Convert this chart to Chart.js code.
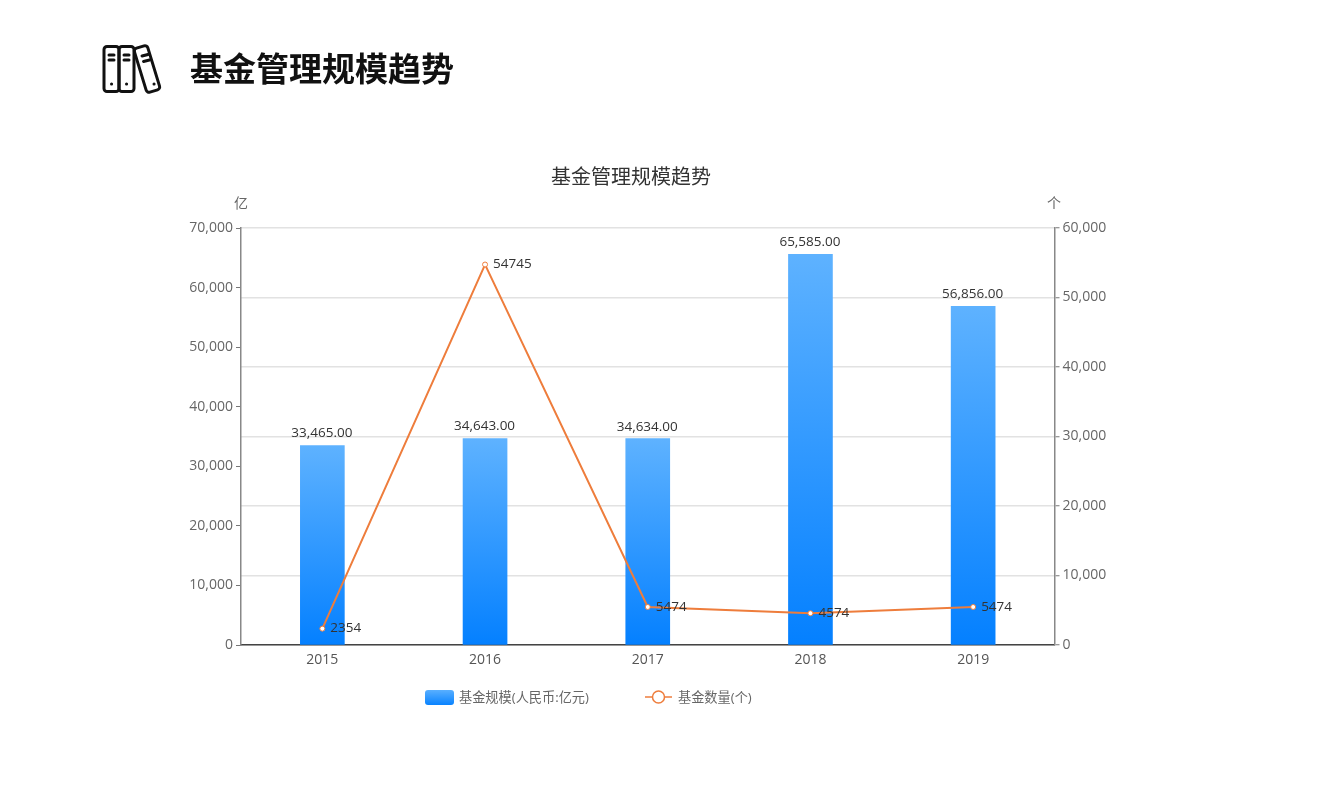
<!DOCTYPE html>
<html lang="zh">
<head>
<meta charset="utf-8">
<title>基金管理规模趋势</title>
<style>
  html, body { margin: 0; padding: 0; background: #fff; overflow: hidden; }
  .page { position: relative; width: 1323px; height: 805px; font-family: "Open Sans", "Noto Sans CJK SC", sans-serif; }
  .page-icon { position: absolute; left: 101px; top: 43px; }
  .page-title { position: absolute; left: 190px; top: 44px; margin: 0; font: 700 33px/46px "Noto Sans CJK SC", sans-serif; color: #111; }
  #fundChart { position: absolute; left: 0; top: 0; }
</style>
</head>
<body>
<div class="page">
  <canvas id="fundChart" width="1323" height="805"></canvas>
  <svg class="page-icon" width="62" height="52" viewBox="0 0 62 52" fill="none" stroke="#111" stroke-width="3" stroke-linecap="round" stroke-linejoin="round">
    <rect x="3" y="3.500" width="15" height="45" rx="3"/>
    <rect x="18" y="3.500" width="15" height="45" rx="3"/>
    <rect x="39" y="3" width="14" height="46" rx="3" transform="rotate(-17 46 26)"/>
    <path d="M8 12h5M8 17h5M23 12h5M23 17h5M41 13l6-1.500M42.500 18.500l6-1.500"/>
    <path d="M10.500 41h.1M25.500 41h.1M53 41h.1"/>
  </svg>
  <h1 class="page-title">基金管理规模趋势</h1>
</div>
<script src="https://cdn.jsdelivr.net/npm/chart.js@4/dist/chart.umd.min.js"></script>
<script>
document.addEventListener("DOMContentLoaded", () => {
  const FONT = '"Open Sans", "Noto Sans CJK SC", sans-serif';

  // ================= DATA =================
  const years = ["2015", "2016", "2017", "2018", "2019"];
  const fundSize = [33465, 34643, 34634, 65585, 56856];
  const fundCount = [2354, 54745, 5474, 4574, 5474];

  const ORANGE = "#ee7d3c";

  function barGradient(ctx, top, bottom) {
    const g = ctx.createLinearGradient(0, top, 0, bottom);
    g.addColorStop(0, "#5eb2ff");
    g.addColorStop(1, "#0480ff");
    return g;
  }

  // ================= TEXT OVERLAY =================
  const overlay = {
    id: "overlay",
    afterDatasetsDraw(chart) {
      const ctx = chart.ctx;
      ctx.save();

      // chart title + axis units
      ctx.textBaseline = "middle";
      ctx.textAlign = "center";
      ctx.fillStyle = "#333";
      ctx.font = `20px ${FONT}`;
      ctx.fillText("基金管理规模趋势", 631, 178);
      ctx.fillStyle = "#666";
      ctx.font = `14px ${FONT}`;
      ctx.fillText("亿", 241, 204);
      ctx.fillText("个", 1054, 204);

      // value labels
      ctx.font = `13.5px ${FONT}`;
      ctx.fillStyle = "#333";
      const bars = chart.getDatasetMeta(0).data;
      bars.forEach((bar, i) => {
        const label = fundSize[i].toLocaleString("en-US", { minimumFractionDigits: 2 });
        ctx.fillText(label, bar.x - 0.5, bar.y - 12);
      });
      ctx.textAlign = "left";
      const points = chart.getDatasetMeta(1).data;
      points.forEach((pt, i) => {
        ctx.fillText(String(fundCount[i]), pt.x + 8, pt.y);
      });

      // legend
      ctx.fillStyle = barGradient(ctx, 689, 706);
      ctx.beginPath();
      ctx.roundRect(425, 690, 29, 15, 3);
      ctx.fill();
      ctx.fillStyle = "#666";
      ctx.font = `13.2px ${FONT}`;
      ctx.fillText("基金规模(人民币:亿元)", 459, 698);

      ctx.strokeStyle = ORANGE;
      ctx.lineWidth = 1.5;
      ctx.beginPath();
      ctx.moveTo(645, 697);
      ctx.lineTo(672, 697);
      ctx.stroke();
      ctx.fillStyle = "#fff";
      ctx.beginPath();
      ctx.arc(658.500, 697, 6, 0, Math.PI * 2);
      ctx.fill();
      ctx.stroke();
      ctx.fillStyle = "#666";
      ctx.fillText("基金数量(个)", 678, 698);

      ctx.restore();
    }
  };

  // ================= CHART =================
  new Chart(document.getElementById("fundChart"), {
    type: "bar",
    plugins: [overlay],
    data: {
      labels: years,
      datasets: [
        {
          label: "基金规模(人民币:亿元)",
          data: fundSize,
          yAxisID: "y",
          order: 2,
          barThickness: 44,
          backgroundColor: c => {
            const { chart, dataIndex } = c;
            const scale = chart.scales.y;
            if (!scale || dataIndex === undefined) return "#2f96ff";
            const top = scale.getPixelForValue(fundSize[dataIndex]);
            if (!Number.isFinite(top) || !Number.isFinite(scale.bottom)) return "#2f96ff";
            return barGradient(chart.ctx, top, scale.bottom);
          }
        },
        {
          type: "line",
          label: "基金数量(个)",
          data: fundCount,
          yAxisID: "y1",
          order: 1,
          borderColor: ORANGE,
          borderWidth: 2,
          tension: 0,
          pointRadius: 2.5,
          pointBorderWidth: 1,
          pointBackgroundColor: "#fff",
          pointBorderColor: ORANGE
        }
      ]
    },
    options: {
      responsive: false,
      animation: false,
      devicePixelRatio: 1,
      layout: { padding: { top: 228 } },
      font: { family: FONT },
      plugins: { legend: { display: false }, title: { display: false }, tooltip: { enabled: false } },
      scales: {
        x: {
          afterFit: s => { s.height = 160; },
          grid: { display: false },
          border: { color: "#444", width: 1.5 },
          ticks: { color: "#555", font: { size: 14, family: FONT }, padding: -1 }
        },
        y: {
          position: "left",
          min: 0,
          max: 70000,
          afterFit: s => { s.width = 241; },
          grid: { drawOnChartArea: false, tickLength: 5, tickColor: "#777", tickWidth: 1 },
          border: { color: "#888", width: 1.5 },
          ticks: { stepSize: 10000, color: "#666", font: { size: 14, family: FONT }, padding: 3 }
        },
        y1: {
          position: "right",
          min: 0,
          max: 60000,
          afterFit: s => { s.width = 268.5; },
          grid: { color: "#e2e2e2", lineWidth: 1.5, tickLength: 5, tickColor: "#777", tickWidth: 1 },
          border: { color: "#888", width: 1.5 },
          ticks: { stepSize: 10000, color: "#666", font: { size: 14, family: FONT }, padding: 3 }
        }
      }
    }
  });
});
</script>
</body>
</html>
